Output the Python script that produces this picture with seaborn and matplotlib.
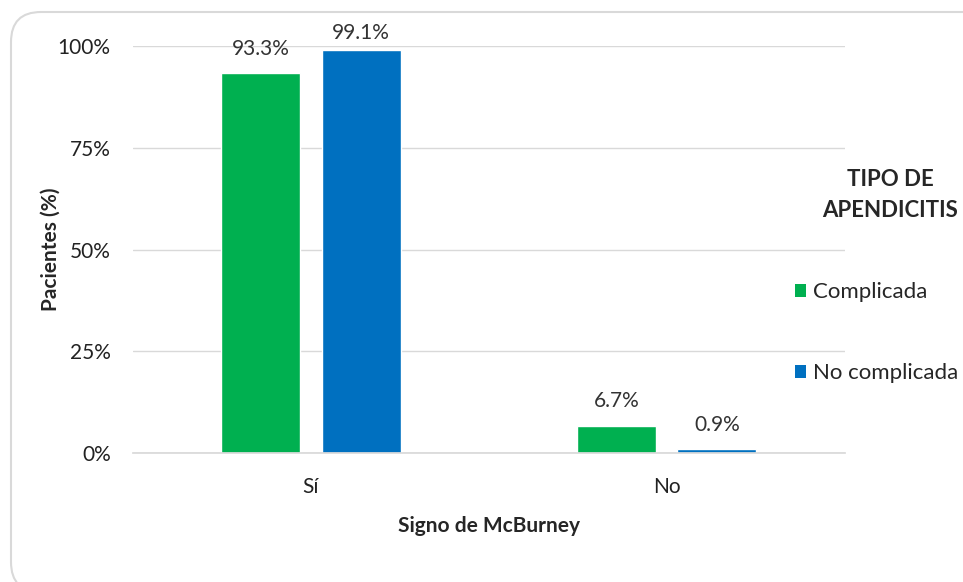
import matplotlib
matplotlib.use("Agg")
import matplotlib.pyplot as plt
import seaborn as sns
import pandas as pd
from matplotlib.patches import FancyBboxPatch, Patch
from matplotlib.ticker import PercentFormatter
from matplotlib.transforms import IdentityTransform

categories = ["Sí", "No"]
series_names = ["Complicada", "No complicada"]
complicada = [93.3, 6.7]
no_complicada = [99.1, 0.9]
colors = ["#00B050", "#0070C0"]

df = pd.DataFrame({
    "Signo": categories * 2,
    "Tipo": [series_names[0]] * 2 + [series_names[1]] * 2,
    "Valor": complicada + no_complicada,
})

sns.set_theme(style="white")
plt.rcParams['font.family'] = ['Lato', 'DejaVu Sans']

FS = 15
LFS = 16
fig = plt.figure(figsize=(9.63, 5.82), dpi=100)
ax = fig.add_axes([0.138, 0.2216, 0.739, 0.6994])

sns.barplot(data=df, x="Signo", y="Valor", hue="Tipo", order=categories,
            hue_order=series_names, palette=colors, width=0.565, gap=0.213,
            ax=ax, legend=False, saturation=1)

ax.set_xlim(-0.5, 1.5)
ax.set_ylim(0, 100)
ax.set_yticks([0, 25, 50, 75, 100])
ax.yaxis.set_major_formatter(PercentFormatter(decimals=0))
ax.grid(axis="y", color="#D9D9D9", linewidth=1)
ax.set_axisbelow(True)
for s in ["top", "right", "left"]:
    ax.spines[s].set_visible(False)
ax.spines["bottom"].set_color("#D9D9D9")
ax.tick_params(axis="both", length=0, labelsize=FS, colors="#222222")
ax.tick_params(axis="y", pad=16)
ax.tick_params(axis="x", pad=17)

for cont in ax.containers:
    anns = ax.bar_label(cont, labels=[f"{v:.1f}%" for v in cont.datavalues],
                        padding=10.5, fontsize=FS, color="#333333")
    for ann, v in zip(anns, cont.datavalues):
        if v > 97:
            ann.xyann = (0, 5)

ax.set_xlabel("Signo de McBurney", fontsize=FS, fontweight="bold")
ax.set_ylabel("Pacientes (%)", fontsize=FS, fontweight="bold")
ax.xaxis.set_label_coords(0.5, -0.155)
ax.yaxis.set_label_coords(-0.101, 0.5)

handles = [Patch(facecolor=c, edgecolor="none") for c in colors]
leg = fig.legend(handles, series_names, title="TIPO DE\nAPENDICITIS",
                 loc="upper left", bbox_to_anchor=(795, 582 - 169),
                 bbox_transform=IdentityTransform(),
                 frameon=False, fontsize=LFS, handlelength=0.5, handleheight=0.5,
                 handletextpad=0.3, labelspacing=2.75, borderaxespad=0, borderpad=0,
                 title_fontproperties={"weight": "bold", "size": LFS})
leg.get_title().set_multialignment("center")
leg.get_title().set_linespacing(1.6)
leg._legend_box.align = "right"

border = FancyBboxPatch((11, -10), 990, 582 + 10 - 12,
                        boxstyle="round,pad=0,rounding_size=30",
                        transform=IdentityTransform(), facecolor="none",
                        edgecolor="#D9D9D9", linewidth=1.5)
fig.patches.append(border)

fig.savefig("out.png", dpi=100)
